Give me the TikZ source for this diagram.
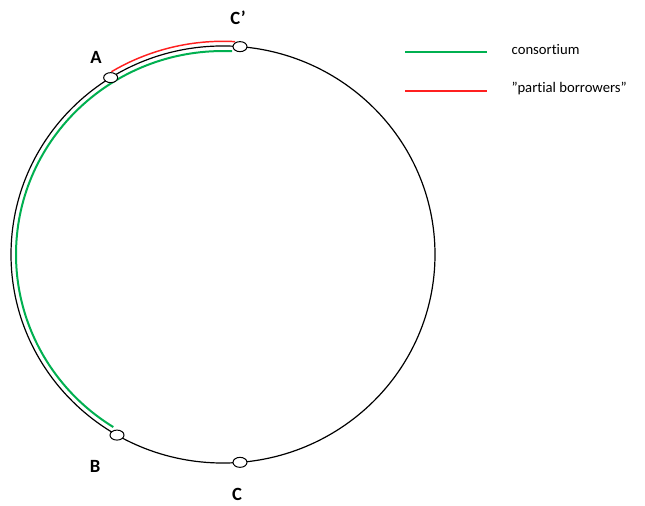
\documentclass[tikz,border=0pt]{standalone}
\usepackage{fontspec}
\setmainfont{Carlito}[RawFeature={-liga;-clig;-dlig;-calt}]
\usetikzlibrary{shapes.geometric}
\definecolor{cgreen}{HTML}{00B050}
\definecolor{cred}{HTML}{FF2020}
\begin{document}
\begin{tikzpicture}[x=0.75pt,y=0.75pt,
  port/.style={draw=black,fill=white,ellipse,line width=0.75pt,inner sep=0pt,minimum width=10.5pt,minimum height=7.5pt},
  lbl/.style={font=\fontsize{14}{16}\selectfont\bfseries},
  legtext/.style={font=\fontsize{11}{13}\selectfont,anchor=west},
  ring/.style={draw=black,line width=0.9pt},
  green arc/.style={draw=cgreen,line width=1.5pt},
  red arc/.style={draw=cred,line width=1.1pt}]
\useasboundingbox (0,0) rectangle (645,506);
\coordinate (O) at (223,251.5);
% main circle
\draw[ring] (O) ellipse[x radius=159pt, y radius=156.4pt];
% consortium arc (inside)
\draw[green arc] (O) ++(87.5:155.25pt and 152.6pt)
  arc[start angle=87.5, end angle=238, x radius=155.25pt, y radius=152.6pt];
% partial borrowers arc (outside)
\draw[red arc] (O) ++(121:162.5pt and 159.9pt)
  arc[start angle=121, end angle=86.8, x radius=162.5pt, y radius=159.9pt];
% ports
\path (O) ++(122:159pt and 156.4pt) node[port] (A) {};
\path (O) ++(85.4:159pt and 156.4pt) node[port] (Cp) {};
\path (O) ++(240:159pt and 156.4pt) node[port] (B) {};
\path (O) ++(274.6:159pt and 156.4pt) node[port] (C) {};
% labels
\node[lbl] (lA) at (96,449) {A};
\node[lbl] (lCp) at (238,488) {C’};
\node[lbl] (lB) at (95,40) {B};
\node[lbl] (lC) at (237,12) {C};
% legend
\coordinate (g1) at (405,454);
\coordinate (g2) at (487,454);
\draw[draw=cgreen,line width=0.9pt] (g1) -- (g2);
\node[legtext] (tg) at (507,456) {consort\kern0pt ium};
\coordinate (r1) at (405,415);
\coordinate (r2) at (487,415);
\draw[draw=cred,line width=0.9pt] (r1) -- (r2);
\node[legtext] (tr) at (507,417) {”part\kern0pt ial borrowers”};
\end{tikzpicture}
\end{document}
